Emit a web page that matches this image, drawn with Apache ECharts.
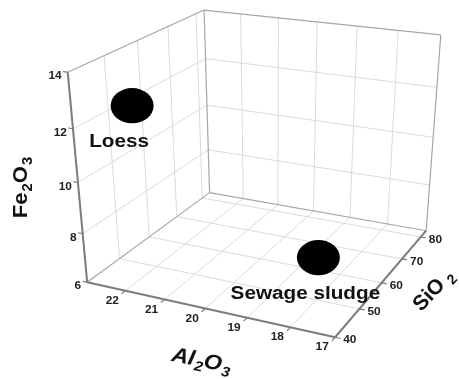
<!DOCTYPE html>
<html>
<head>
<meta charset="utf-8">
<script src="https://cdn.jsdelivr.net/npm/echarts@6/dist/echarts.min.js"></script>
<style>
html, body { margin: 0; padding: 0; background: #fff; }
#chart { width: 459px; height: 379px; }
</style>
</head>
<body>
<div id="chart"></div>
<script>
// sample composition (wt %)
var samples = ['Loess', 'Sewage sludge'];
var al2o3 = [22.38, 18.65];
var sio2 = [50, 62];
var fe2o3 = [12.3, 6.3];

// axes
var alRange = [17, 23];
var siRange = [40, 83];
var feRange = [6, 14];
var alTicks = [17, 18, 19, 20, 21, 22];
var siTicks = [40, 50, 60, 70, 80];
var feTicks = [6, 8, 10, 12, 14];
var alGrid = [18, 19, 20, 21, 22];
var siGrid = [50, 60, 70, 80];
var feGrid = [8, 10, 12];

// camera: box points (u, v, w) and where they sit on the page
var cameraRefs = [
    [0, 0, 0, 87, 283], [1, 0, 0, 335, 337], [1, 1, 0, 426, 231], [0, 1, 0, 210, 192],
    [0, 0, 1, 68, 72], [0, 1, 1, 204, 10], [1, 1, 1, 442, 35],
    [0, 10 / 43, 1, 105, 55], [0, 20 / 43, 1, 137, 40.5], [0, 30 / 43, 1, 167, 27], [0, 40 / 43, 1, 195, 14],
    [1 / 6, 1, 1, 242, 14], [2 / 6, 1, 1, 279, 17.9], [3 / 6, 1, 1, 317, 21.9], [4 / 6, 1, 1, 357, 26.1], [5 / 6, 1, 1, 397, 30.3]
];

function fitCamera(refs) {
    var n = 11, M = [], rhs = [], i, j, k, r;
    for (i = 0; i < n; i++) { M.push(new Array(n).fill(0)); rhs.push(0); }
    refs.forEach(function (p) {
        var u = p[0], v = p[1], w = p[2], x = p[3] / 100, y = p[4] / 100;
        [[[u, v, w, 1, 0, 0, 0, 0, -x * u, -x * v, -x * w], x],
         [[0, 0, 0, 0, u, v, w, 1, -y * u, -y * v, -y * w], y]].forEach(function (row) {
            var a = row[0];
            for (i = 0; i < n; i++) {
                rhs[i] += a[i] * row[1];
                for (j = 0; j < n; j++) M[i][j] += a[i] * a[j];
            }
        });
    });
    for (k = 0; k < n; k++) {
        var piv = k;
        for (r = k + 1; r < n; r++) if (Math.abs(M[r][k]) > Math.abs(M[piv][k])) piv = r;
        var t = M[k]; M[k] = M[piv]; M[piv] = t;
        t = rhs[k]; rhs[k] = rhs[piv]; rhs[piv] = t;
        for (r = k + 1; r < n; r++) {
            var f = M[r][k] / M[k][k];
            for (j = k; j < n; j++) M[r][j] -= f * M[k][j];
            rhs[r] -= f * rhs[k];
        }
    }
    var m = new Array(n);
    for (i = n - 1; i >= 0; i--) {
        var s = rhs[i];
        for (j = i + 1; j < n; j++) s -= M[i][j] * m[j];
        m[i] = s / M[i][i];
    }
    return m;
}
var cam = fitCamera(cameraRefs);

// (Al2O3, SiO2, Fe2O3) -> page position
function project(al, si, fe) {
    var u = (alRange[1] - al) / (alRange[1] - alRange[0]);
    var v = (si - siRange[0]) / (siRange[1] - siRange[0]);
    var w = (fe - feRange[0]) / (feRange[1] - feRange[0]);
    var d = cam[8] * u + cam[9] * v + cam[10] * w + 1;
    return [
        (cam[0] * u + cam[1] * v + cam[2] * w + cam[3]) / d * 100,
        (cam[4] * u + cam[5] * v + cam[6] * w + cam[7]) / d * 100
    ];
}

// segments: [al1, si1, fe1, al2, si2, fe2, kind] kind 0 grid, 1 box edge, 2 axis, 3 tick
var aLo = alRange[0], aHi = alRange[1], sLo = siRange[0], sHi = siRange[1], fLo = feRange[0], fHi = feRange[1];
var segments = [];
alGrid.forEach(function (a) {
    segments.push([a, sLo, fLo, a, sHi, fLo, 0]);
    segments.push([a, sHi, fLo, a, sHi, fHi, 0]);
});
siGrid.forEach(function (s) {
    segments.push([aHi, s, fLo, aLo, s, fLo, 0]);
    segments.push([aHi, s, fLo, aHi, s, fHi, 0]);
});
feGrid.forEach(function (f) {
    segments.push([aHi, sLo, f, aHi, sHi, f, 0]);
    segments.push([aHi, sHi, f, aLo, sHi, f, 0]);
});
segments.push(
    [aHi, sLo, fLo, aHi, sHi, fLo, 1], [aHi, sHi, fLo, aLo, sHi, fLo, 1],
    [aHi, sHi, fLo, aHi, sHi, fHi, 1], [aHi, sLo, fHi, aHi, sHi, fHi, 1],
    [aHi, sHi, fHi, aLo, sHi, fHi, 1], [aLo, sHi, fLo, aLo, sHi, fHi, 1],
    [aHi, sLo, fLo, aLo, sLo, fLo, 2], [aLo, sLo, fLo, aLo, sHi, fLo, 2],
    [aHi, sLo, fLo, aHi, sLo, fHi, 2]
);
alTicks.forEach(function (a) { segments.push([a, sLo, fLo, a, sLo - 1.2, fLo, 3]); });
siTicks.forEach(function (s) { segments.push([aLo, s, fLo, aLo - 0.12, s, fLo, 3]); });
feTicks.forEach(function (f) { segments.push([aHi, sLo, f, aHi + 0.12, sLo, f, 3]); });

var tickLabels = [];
alTicks.forEach(function (a) { tickLabels.push([a, sLo, fLo, 0]); });
siTicks.forEach(function (s) { tickLabels.push([aLo, s, fLo, 1]); });
feTicks.forEach(function (f) { tickLabels.push([aHi, sLo, f, 2]); });

var strokes = ['#dadada', '#a6a6a6', '#7c7c7c', '#7c7c7c'];
var widths = [1, 1.2, 2, 1.2];
var font = 'Liberation Sans, Arial, sans-serif';

function titleRich(style) {
    return {
        m: { fontSize: 21, fontWeight: 'bold', fontStyle: style, fontFamily: font, lineHeight: 24, verticalAlign: 'top', fill: '#111' },
        s: { fontSize: 14, fontWeight: 'bold', fontStyle: style, fontFamily: font, lineHeight: 15, verticalAlign: 'bottom', fill: '#111', padding: [0, 0, 0, 1] },
        g: { fontSize: 14, fontWeight: 'bold', fontFamily: font, lineHeight: 15, verticalAlign: 'bottom', fill: '#111', padding: [0, 0, 0, 5] }
    };
}

var dom = document.getElementById('chart');
var myChart = echarts.init(dom);
var option = {
    animation: false,
    grid: { left: 0, right: 0, top: 0, bottom: 0 },
    xAxis: { type: 'value', min: 0, max: 459, show: false },
    yAxis: { type: 'value', min: 0, max: 379, inverse: true, show: false },
    series: [
        {
            type: 'custom',
            silent: true,
            clip: false,
            data: segments,
            renderItem: function (params, api) {
                var p1 = api.coord(project(api.value(0), api.value(1), api.value(2)));
                var p2 = api.coord(project(api.value(3), api.value(4), api.value(5)));
                var k = api.value(6);
                return {
                    type: 'line',
                    shape: { x1: p1[0], y1: p1[1], x2: p2[0], y2: p2[1] },
                    style: { stroke: strokes[k], lineWidth: widths[k] }
                };
            }
        },
        {
            type: 'custom',
            silent: true,
            clip: false,
            data: tickLabels,
            renderItem: function (params, api) {
                var axis = api.value(3);
                var p = api.coord(project(api.value(0), api.value(1), api.value(2)));
                var val = [api.value(0), api.value(1), api.value(2)][axis];
                var off = [[-13, 10], [8, 3], [-6, 4]][axis];
                return {
                    type: 'text',
                    x: p[0] + off[0],
                    y: p[1] + off[1],
                    scaleX: 1.08,
                    style: {
                        text: String(val),
                        fill: '#222',
                        fontSize: 11,
                        fontWeight: 'bold',
                        fontFamily: font,
                        align: ['center', 'left', 'right'][axis],
                        verticalAlign: 'middle'
                    }
                };
            }
        },
        {
            type: 'custom',
            silent: true,
            clip: false,
            data: [[20, sLo, fLo, 0], [aLo, 61, fLo, 1], [aHi, sLo, 10, 2]],
            renderItem: function (params, api) {
                var axis = api.value(3);
                var p = api.coord(project(api.value(0), api.value(1), api.value(2)));
                var off = [[-4, 54], [51, 11], [-55, 5]][axis];
                var txt = ['{m|Al}{s|2}{m|O}{s|3}', '{m|SiO}{g|2}', '{m|Fe}{s|2}{m|O}{s|3}'][axis];
                return {
                    type: 'text',
                    x: p[0] + off[0],
                    y: p[1] + off[1],
                    rotation: [-0.2, 0.82, Math.PI / 2][axis],
                    scaleX: [1.1, 1.0, 1.05][axis],
                    style: {
                        text: txt,
                        rich: titleRich(axis === 0 ? 'italic' : 'normal'),
                        align: 'center',
                        verticalAlign: 'middle'
                    }
                };
            }
        },
        {
            type: 'custom',
            silent: true,
            clip: false,
            data: samples.map(function (name, i) { return [al2o3[i], sio2[i], fe2o3[i], i]; }),
            renderItem: function (params, api) {
                var p = api.coord(project(api.value(0), api.value(1), api.value(2)));
                return {
                    type: 'group',
                    children: [
                        {
                            type: 'circle',
                            x: p[0],
                            y: p[1],
                            scaleY: 0.82,
                            shape: { cx: 0, cy: 0, r: 21.5 },
                            style: { fill: '#000' }
                        },
                        {
                            type: 'text',
                            x: p[0] - 13,
                            y: p[1] + 36,
                            scaleX: 1.15,
                            style: {
                                text: samples[api.value(3)],
                                fill: '#111',
                                fontSize: 18,
                                fontWeight: 'bold',
                                fontFamily: font,
                                align: 'center',
                                verticalAlign: 'middle'
                            }
                        }
                    ]
                };
            }
        }
    ]
};
if (option && typeof option === "object") {
    myChart.setOption(option, true);
}
</script>
</body>
</html>
